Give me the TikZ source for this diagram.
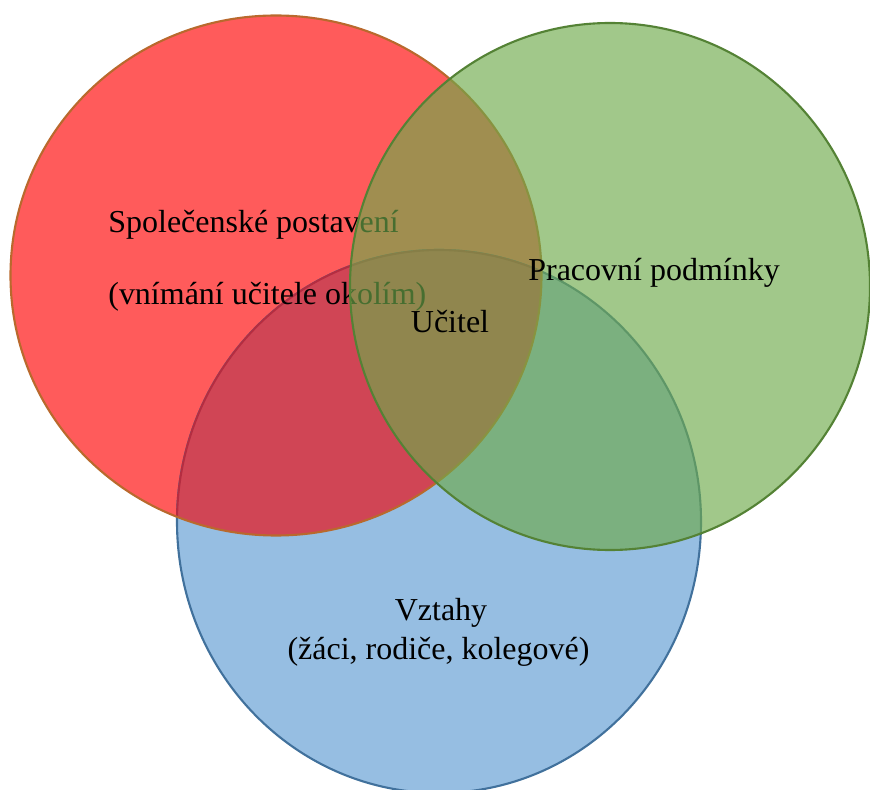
\documentclass[tikz,border=0pt]{standalone}
\usepackage{fontspec}
\setmainfont{Liberation Serif}
\usetikzlibrary{positioning}

\definecolor{redfill}{RGB}{255,91,91}
\definecolor{redline}{RGB}{185,105,45}
\definecolor{bluefill}{RGB}{150,190,226}
\definecolor{blueline}{RGB}{65,113,156}
\definecolor{redblue}{RGB}{208,69,85}
\definecolor{redblueline}{RGB}{180,45,65}
\definecolor{greenfill}{RGB}{110,170,75}
\definecolor{greenline}{RGB}{84,130,53}

\begin{document}
\begin{tikzpicture}[
    lbl/.style={inner sep=0pt, font=\fontsize{18.2}{21.8}\selectfont},
    rim/.style={line width=1.2pt}
  ]
  \useasboundingbox (0,0) rectangle (17.4,15.78);
  \coordinate (cr) at (5.52,10.27);
  \coordinate (cb) at (8.78,5.35);
  \coordinate (cg) at (12.20,10.05);

  % red and blue circle
  \fill[redfill] (cr) ellipse (5.31 and 5.20);
  \fill[bluefill] (cb) ellipse (5.24 and 5.43);
  \draw[rim, blueline] (cb) ellipse (5.24 and 5.43);
  \begin{scope}
    \clip (cr) ellipse (5.31 and 5.20);
    \fill[redblue] (cb) ellipse (5.24 and 5.43);
    \draw[rim, redblueline] (cb) ellipse (5.24 and 5.43);
  \end{scope}
  \draw[rim, redline] (cr) ellipse (5.31 and 5.20);

  \node[lbl, anchor=base west] (spol) at (2.16,11.12) {Společenské postavení};
  \node[lbl, anchor=base west] (okoli) at (2.16,9.68) {(vnímání učitele okolím)};
  \node[lbl, anchor=base] (vztahy) at (8.82,3.38) {Vztahy};
  \node[lbl, anchor=base] (zaci) at (8.77,2.60) {(žáci, rodiče, kolegové)};

  % green circle on top
  \fill[greenfill, fill opacity=0.65] (cg) ellipse (5.20 and 5.27);
  \draw[rim, greenline] (cg) ellipse (5.20 and 5.27);

  \node[lbl, anchor=base west] (prace) at (10.56,10.16) {Pracovní podmínky};
  \node[lbl, anchor=base] (ucitel) at (9.0,9.12) {Učitel};
\end{tikzpicture}
\end{document}
